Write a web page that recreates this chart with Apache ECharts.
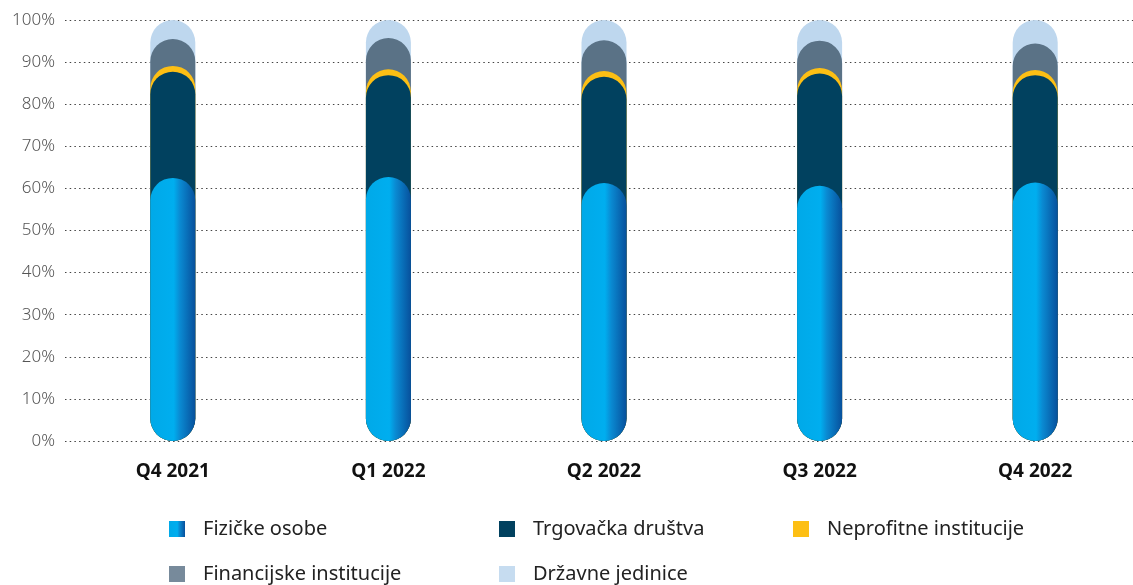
<!DOCTYPE html>
<html>
<head>
<meta charset="utf-8">
<script src="https://cdn.jsdelivr.net/npm/echarts@6/dist/echarts.min.js"></script>
<style>
  html, body { margin: 0; padding: 0; background: #fff; }
  #chart { width: 1133px; height: 585px; }
</style>
</head>
<body>
<div id="chart"></div>
<script>
// udjeli po sektorima (%), očitano s grafa
const categories = ['Q4 2021', 'Q1 2022', 'Q2 2022', 'Q3 2022', 'Q4 2022']
const fizicke = [62.5, 62.7, 61.3, 60.6, 61.4]
const trgovacka = [25.2, 24.2, 25.2, 26.7, 25.5]
const neprofitne = [1.4, 1.4, 1.4, 1.3, 1.2]
const financijske = [6.4, 7.4, 7.3, 6.5, 6.3]
const drzavne = [4.5, 4.3, 4.8, 4.9, 5.6]
const yTicks = [0, 10, 20, 30, 40, 50, 60, 70, 80, 90, 100]

const font = "'Noto Sans', sans-serif"

const blueGrad = new echarts.graphic.LinearGradient(0, 0, 1, 0, [
  { offset: 0, color: '#00a9e8' },
  { offset: 0.52, color: '#00aeef' },
  { offset: 0.66, color: '#0a8ad2' },
  { offset: 1, color: '#07509c' }
])

// svaki stupac crta se kao pilula od 0 do kumulativne vrijednosti
const layers = [
  { name: 'Fizičke osobe', values: fizicke, color: blueGrad, legendColor: blueGrad },
  { name: 'Trgovačka društva', values: trgovacka, color: '#01415f', legendColor: '#01415f' },
  { name: 'Neprofitne institucije', values: neprofitne, color: '#fdbf14', legendColor: '#fdbf14' },
  { name: 'Financijske institucije', values: financijske, color: '#5a7286', legendColor: '#778a9b' },
  { name: 'Državne jedinice', values: drzavne, color: '#bed7ee', legendColor: '#c6dcf0' }
]

const cumulative = layers.map((_, i) =>
  categories.map((_, c) => {
    let s = 0
    for (let k = 0; k <= i; k++) s += layers[k].values[c]
    return +s.toFixed(2)
  })
)

// najveći ispod, najmanji na vrhu
const series = layers.map((l, i) => ({
  name: l.name,
  type: 'bar',
  barWidth: 45,
  barGap: '-100%',
  data: cumulative[i],
  itemStyle: { color: l.color, borderRadius: 22.5 },
  z: 10 - i
})).reverse()

const legendPos = [
  { left: 164, top: 514 },
  { left: 494, top: 514 },
  { left: 788, top: 514 },
  { left: 164, top: 559 },
  { left: 494, top: 559 }
]

const legends = layers.map((l, i) => ({
  left: legendPos[i].left,
  top: legendPos[i].top,
  icon: 'rect',
  itemWidth: 16,
  itemHeight: 16,
  selectedMode: false,
  data: [{ name: l.name, itemStyle: { color: l.legendColor } }],
  textStyle: {
    fontFamily: font,
    fontSize: 20,
    color: '#222',
    padding: [0, 0, 0, 13]
  }
}))

const chart = echarts.init(document.getElementById('chart'))
chart.setOption({
  animation: false,
  grid: { left: 65, width: 1078, top: 20, bottom: 144, outerBoundsMode: 'none', containLabel: false },
  legend: legends,
  xAxis: {
    type: 'category',
    data: categories,
    axisLine: { show: false },
    axisTick: { show: false },
    axisLabel: {
      margin: 21,
      fontFamily: font,
      fontSize: 19,
      fontWeight: 'bold',
      color: '#111'
    }
  },
  yAxis: {
    type: 'value',
    min: yTicks[0],
    max: yTicks[yTicks.length - 1],
    interval: 10,
    axisLine: { show: false },
    axisTick: { show: false },
    axisLabel: {
      formatter: '{value}%',
      margin: 10,
      fontFamily: font,
      fontSize: 17,
      fontWeight: 300,
      color: '#555'
    },
    splitLine: {
      lineStyle: { color: '#444', width: 1, type: [1.5, 3.2] }
    }
  },
  series: series
})
</script>
</body>
</html>
